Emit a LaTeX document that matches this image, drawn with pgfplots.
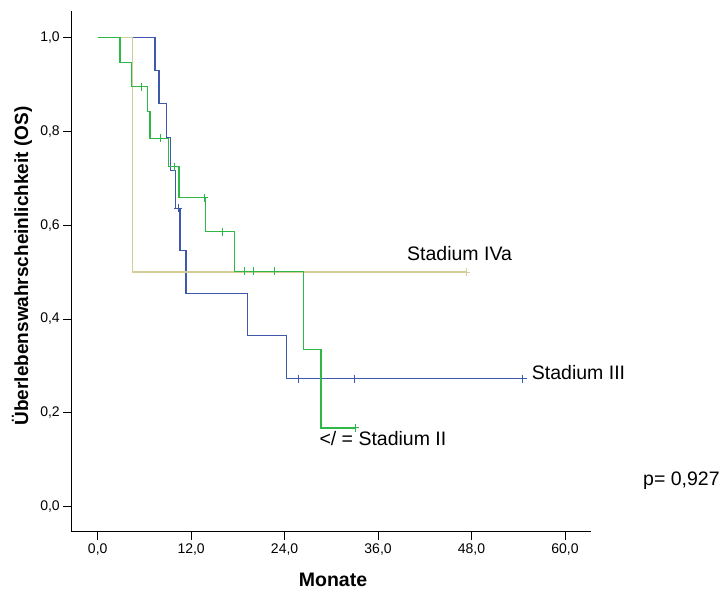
\documentclass[border=0pt]{standalone}
\usepackage{fontspec}
\setmainfont{Liberation Sans}
\usepackage{pgfplots}
\pgfplotsset{compat=1.18}
\definecolor{spssblue}{HTML}{3E58AC}
\definecolor{spssgreen}{HTML}{2EB848}
\definecolor{spsstan}{HTML}{D3CE97}
\begin{document}
\begin{tikzpicture}[x=1pt,y=1pt]
\path[use as bounding box] (0,0) rectangle (722,594);
\begin{axis}[
  at={(71.3pt,62.3pt)}, anchor=south west,
  scale only axis, width=519.4pt, height=520.7pt,
  xmin=-3.39, xmax=63.3, ymin=-0.053, ymax=1.056,
  axis x line*=bottom, axis y line*=left,
  axis line style={black, line width=1pt, -},
  tick align=outside, major tick length=8pt,
  tick style={black, line width=1pt},
  xtick={0,12,24,36,48,60},
  ytick={0,0.2,0.4,0.6,0.8,1},
  tick label style={font=\fontsize{14}{16}\selectfont},
  /pgf/number format/use comma,
  /pgf/number format/fixed,
  /pgf/number format/fixed zerofill,
  /pgf/number format/precision=1,
  /pgf/number format/assume math mode=true,
  clip=false,
]
% Stadium III (blue)
\addplot[spssblue, line width=1.15pt, const plot, no marks] coordinates {
  (0,1) (7.36,0.930) (7.87,0.859) (8.85,0.787) (9.37,0.716) (10.02,0.636)
  (10.56,0.545) (11.33,0.4545) (19.25,0.364) (24.26,0.273) (54.6,0.273)};
\addplot[spssblue, line width=1pt, only marks, mark=+, mark size=4pt] coordinates {
  (10.35,0.636) (25.75,0.273) (32.94,0.273) (54.6,0.273)};
% Stadium IVa (tan)
\addplot[spsstan, line width=1.15pt, const plot, no marks] coordinates {
  (0,1) (4.44,0.5) (47.3,0.5)};
\addplot[spsstan, line width=1pt, only marks, mark=+, mark size=4pt] coordinates {
  (47.3,0.5)};
% Stadium II (green)
\addplot[spssgreen, line width=1.15pt, const plot, no marks] coordinates {
  (0,1) (2.86,0.947) (4.36,0.895) (6.42,0.842) (6.71,0.785) (9.07,0.724)
  (10.44,0.658) (13.86,0.586) (17.54,0.502) (26.4,0.335) (28.67,0.168) (33.04,0.168)};
\addplot[spssgreen, line width=1pt, only marks, mark=+, mark size=4pt] coordinates {
  (5.56,0.895) (8.0,0.785) (9.92,0.724) (13.65,0.658) (16.0,0.586)
  (18.8,0.502) (20.0,0.502) (22.76,0.502) (33.04,0.168)};
\end{axis}
\node[anchor=base west, inner sep=0pt, font=\fontsize{19.5}{22}\selectfont] at (407,333.3) {Stadium IVa};
\node[anchor=west, inner sep=0pt, font=\fontsize{19.5}{22}\selectfont] at (531.7,221) {Stadium III};
\node[anchor=west, inner sep=0pt, font=\fontsize{19.5}{22}\selectfont] at (319.3,155) {</ = Stadium II};
\node[anchor=west, inner sep=0pt, font=\fontsize{19.5}{22}\selectfont] at (643,113) {p= 0,927};
\node[rotate=90, inner sep=0pt, font=\bfseries\fontsize{19}{22}\selectfont] at (22,328) {Überlebenswahrscheinlichkeit (OS)};
\node[inner sep=0pt, font=\bfseries\fontsize{19.5}{22}\selectfont] at (333,14) {Monate};
\end{tikzpicture}
\end{document}
